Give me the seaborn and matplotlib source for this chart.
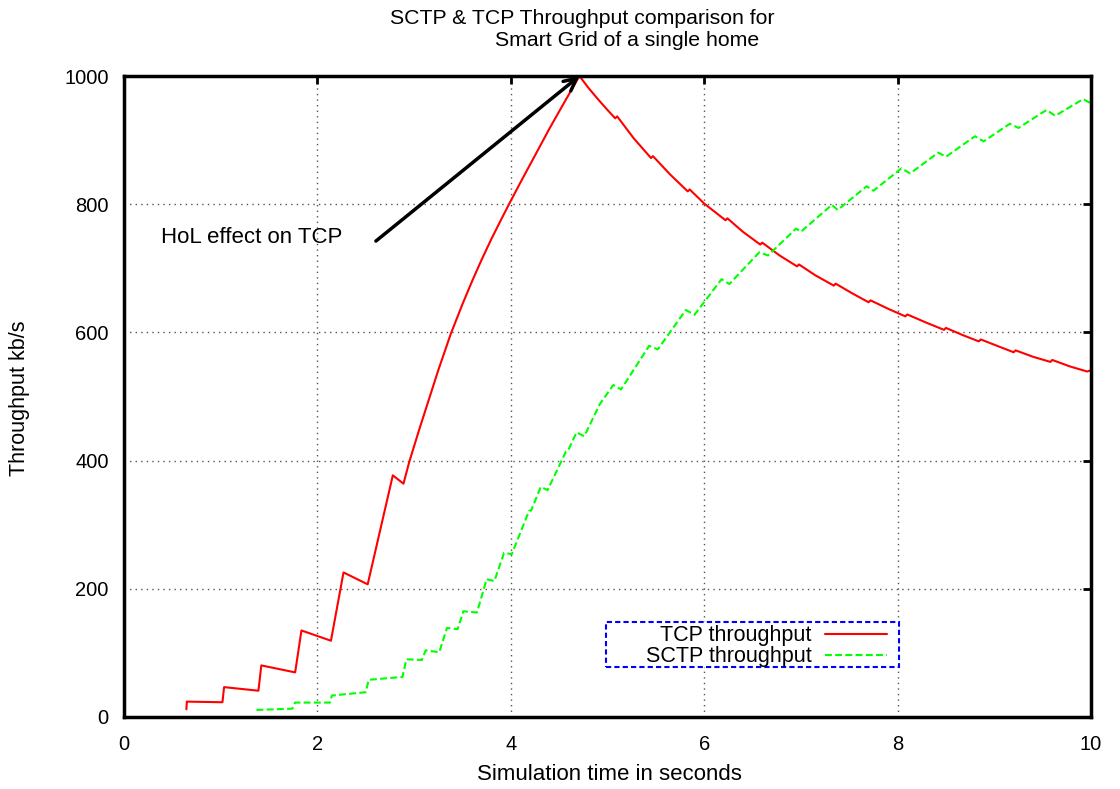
import matplotlib
matplotlib.use("Agg")
import matplotlib.pyplot as plt
from matplotlib.patches import Rectangle
import seaborn as sns
import pandas as pd

# ---- data ----
tcp_time = [0.645, 0.65, 1.018, 1.035, 1.39, 1.42, 1.77, 1.835, 2.14, 2.27, 2.52, 2.78, 2.89,
            2.95, 3.05, 3.15, 3.25, 3.38, 3.5, 3.6, 3.7, 3.8, 3.9, 3.985, 4.1, 4.25, 4.4, 4.55, 4.71,
            4.80, 4.90, 5.00, 5.08, 5.10, 5.27, 5.45, 5.47, 5.65, 5.83, 5.85, 6.0, 6.22, 6.24, 6.40,
            6.58, 6.60, 6.78, 6.96, 6.98, 7.15, 7.34, 7.36, 7.53, 7.70, 7.72, 7.90, 8.08, 8.10, 8.30,
            8.48, 8.50, 8.67, 8.84, 8.86, 9.03, 9.20, 9.22, 9.40, 9.58, 9.60, 9.78, 9.96, 10.0]
tcp_kbps = [12, 24, 23, 46.6, 41, 80.5, 69.6, 135, 119, 225.5, 207, 377, 364,
            398, 447, 494, 541, 598, 644, 680, 714, 746, 776, 801, 834, 876, 918, 958, 1000,
            982, 964, 947, 934, 937, 903, 872, 875, 846, 820, 823, 801, 775, 778, 757,
            737, 740, 720, 703, 706, 689, 673, 676, 661, 647, 650, 637, 625, 628, 615,
            604, 607, 596, 586, 589, 579, 569, 572, 562, 554, 557, 547, 539, 541]

sctp_time = [1.37, 1.74, 1.77, 2.13, 2.15, 2.50, 2.53, 2.88, 2.92, 3.08, 3.12, 3.26, 3.34, 3.45,
             3.51, 3.65, 3.75, 3.83, 3.93, 4.01, 4.19, 4.21, 4.31, 4.38, 4.57, 4.59, 4.68, 4.76,
             4.92, 5.06, 5.14, 5.43, 5.52, 5.81, 5.90, 6.18, 6.26, 6.57, 6.66, 6.95, 7.00, 7.32,
             7.38, 7.68, 7.75, 8.04, 8.13, 8.42, 8.50, 8.80, 8.89, 9.16, 9.25, 9.54, 9.63, 9.92, 10.0]
sctp_kbps = [11, 13, 22.5, 22.5, 33.5, 38.7, 58, 62.5, 90, 89, 104, 101, 139, 137,
             165, 163, 215, 212, 256, 254, 322, 322, 359, 354, 414, 415, 444, 438,
             488, 518, 511, 579, 573.5, 635, 627.5, 683, 675.5, 725, 720, 762, 757, 799,
             791, 828, 821, 856, 848, 880.5, 874, 906, 898, 925.5, 919, 947, 938, 964, 957]

x_ticks = [0, 2, 4, 6, 8, 10]
y_ticks = [0, 200, 400, 600, 800, 1000]

title_line1 = "SCTP & TCP Throughput comparison for"
title_line2 = "Smart Grid of a single home"
annotation_text = "HoL effect on TCP"
arrow_start = (2.605, 742.5)
arrow_tip = (4.71, 1000)

tcp_df = pd.DataFrame({"t": tcp_time, "v": tcp_kbps})
sctp_df = pd.DataFrame({"t": sctp_time, "v": sctp_kbps})

sns.set_theme(style="white")
plt.rcParams["font.family"] = ["Liberation Sans", "DejaVu Sans"]
plt.rcParams["text.color"] = "black"

W, H = 1120, 789
fig = plt.figure(figsize=(W / 100, H / 100), dpi=100)
L, R, T, B = 124, 1091, 76, 717
ax = fig.add_axes([L / W, 1 - B / H, (R - L) / W, (B - T) / H])

sns.lineplot(data=tcp_df, x="t", y="v", ax=ax, color="#ff0000", lw=1.5,
             estimator=None, sort=False, label="TCP throughput")
sns.lineplot(data=sctp_df, x="t", y="v", ax=ax, color="#00ff00", lw=1.5,
             estimator=None, sort=False, label="SCTP throughput", dashes=False)
ax.lines[1].set_dashes((3.3, 1.6))

ax.set_xlim(0, 10)
ax.set_ylim(0, 1000)
ax.set_xticks(x_ticks)
ax.set_yticks(y_ticks)
ax.set_xlabel("")
ax.set_ylabel("")
ax.grid(True, linestyle=(0, (1, 3)), color="#555555", lw=1.0)
for s in ax.spines.values():
    s.set_visible(True)
    s.set_color("black")
    s.set_linewidth(2.5)
ax.tick_params(direction="in", length=6, width=2, top=True, right=True,
               labelsize=14.5, colors="black")
ax.tick_params(axis="x", pad=13)
ax.tick_params(axis="y", pad=11)

# legend (text first, sample after) with a hand-placed dashed blue box
box = Rectangle((0.4984, 0.078), 0.8014 - 0.4984, 0.1482 - 0.078, transform=ax.transAxes,
                facecolor="white", edgecolor="#0000ff", lw=1.5, linestyle=(0, (2.5, 1.5)),
                zorder=4, clip_on=False)
ax.add_patch(box)
leg = ax.legend(loc="upper right", bbox_to_anchor=(0.789, 0.143), markerfirst=False,
                frameon=False, fontsize=15.5, handlelength=2.9, borderpad=0,
                labelspacing=0.0, handletextpad=0.6, borderaxespad=0)
leg.set_zorder(6)
for txt in leg.get_texts():
    txt.set_color("black")

# annotation
ax.annotate("", xy=arrow_tip, xytext=arrow_start,
            arrowprops=dict(arrowstyle="->", lw=2.5, color="black", mutation_scale=22,
                            shrinkA=0, shrinkB=0))
ax.text(0.38, 748, annotation_text, fontsize=16, ha="left", va="center", color="black")

# titles & labels
fig.text(582 / W, 1 - 19 / H, title_line1, fontsize=15.3, ha="center", va="center")
fig.text(627 / W, 1 - 41 / H, title_line2, fontsize=15.3, ha="center", va="center")
fig.text(609 / W, 1 - 774 / H, "Simulation time in seconds", fontsize=16, ha="center", va="center")
fig.text(20 / W, 1 - 398 / H, "Throughput kb/s", fontsize=15.5, ha="center", va="center", rotation=90)

fig.savefig("out.png", dpi=100)
